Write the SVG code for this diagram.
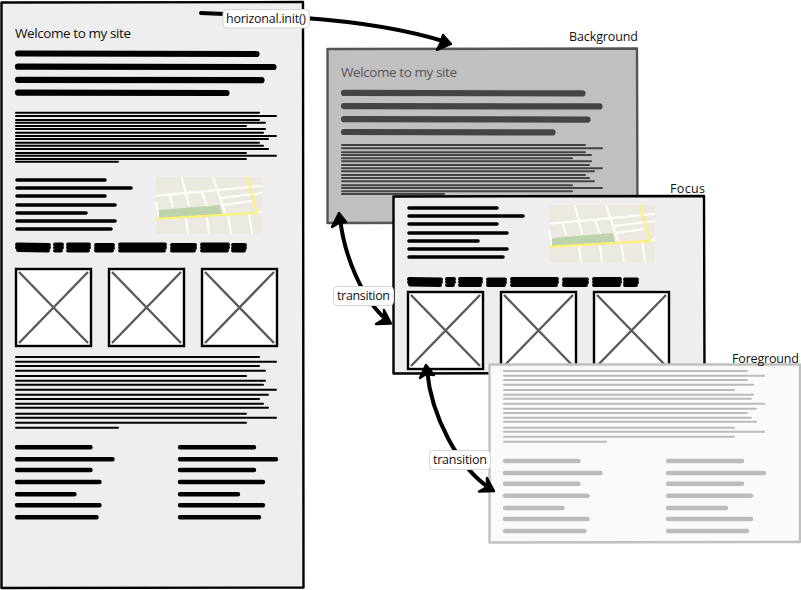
<svg xmlns="http://www.w3.org/2000/svg" width="801" height="590" viewBox="0 0 801 590">
<style>
text{font-family:"Open Sans","Noto Sans","Liberation Sans",sans-serif;fill:#111}
.lbl{font-size:12.5px}
.title{font-size:13.5px}
.h,.p,.l,.b,.f{fill:none;stroke-linecap:round}
.h{stroke-width:6.2}
.p{stroke-width:2}
.l{stroke-width:3.6}
.b{stroke-width:3.9;stroke-linejoin:round}
.f{stroke-width:4.4}
.pill{fill:#fff;stroke:#d4d4d4;stroke-width:1}
.conn{fill:none;stroke:#000;stroke-width:4;stroke-linecap:round}
.head{fill:#000;stroke:#000;stroke-width:2.4;stroke-linejoin:round}
.frame{stroke-width:2.4;stroke-linejoin:round}
.img{fill:#fff;stroke:#000;stroke-width:2.4}
.x{stroke:#5a5a5a;stroke-width:2.4;fill:none}
.road{stroke:#fff;stroke-width:2;fill:none}
.yel{stroke:#fdf36c;stroke-width:2;fill:none}
</style>
<defs>
<path id="head4" d="M18 53.500L256.500 54M18 66.700L273.500 67M18 79.800L261.500 80.200M18 92.600L226.500 93"/>
<path id="para" d="M16 112.700H259M16 116H276M16 120H259M16 122.700H265M16 126H246M16 129H265M16 132.700H263M16 136H276M16 139H268M16 142.700H259M16 145.700H263M16 149H268M16 153H246M16 155.700H276M16 159H246M16 161.700H118"/>
<path id="para2" d="M16 357H259M16 361.700H276M16 366H259M16 370.700H265M16 376H246M16 380.700H265M16 384.700H263M16 389.700H276M16 394.700H268M16 399H259M16 403.700H263M16 407.700H268M16 413.700H246M16 417.700H276M16 422.700H246M16 427.700H118"/>
<path id="list" d="M17 180H105M17 188H131M17 196H105M17 205H115M17 213H86M17 221H115M17 229H111"/>
<path id="blobs" d="M17 244.500L49 245M17 247.500H49M18 250L48 250.500M55 244.500H62M55 247.500H62M55 250.500H61M68 244.500H89M68 247.500H89M68 250.500H88M96 245H113M96 248H113M96 250.500H112M120 244.500H165M120 247.500H165M120 250.500H164M172 245H195M172 248H195M172 250.500H194M202 244.500H228M202 247.500H228M202 250.500H227M233 245H245M233 248H245M233 250.500H244"/>
<path id="foot" d="M17 447.300H90.500M17 459.300H112.500M17 470H90.500M17 482H99.500M17 494.300H74.500M17 505.300H99.500M17 517.300H96.500M180 447.300H254M180 459.300H276M180 470H254M180 482H263M180 494.300H238M180 505.300H263M180 517.300H259"/>
<g id="map">
<rect width="106" height="57" fill="#ece9e1"/>
<path class="road" d="M0 18.700L106 9M25.700 0L33 29M57 0L69 36M14 19L17 30M46 15L51 29M0 25L3 41M30 41L32 57M51 41L53 57M72 38L75 57M93 36L96 57M65 21L106 16M66 28L95 24M101 35.500L106 35"/>
<path d="M3 33L64 28L66 37L3 41Z" fill="#bdd3ac"/>
<path class="yel" d="M0 41.700L101 36L91 0"/>
</g>
<g id="imgbox">
<rect class="img" x="0" y="0" width="75" height="77"/>
<path class="x" d="M3 3L72 74M72 3L3 74"/>
</g>
</defs>

<g id="page">
<path d="M1.500 2.500L303 2L303.500 587.500L1.500 588Z" fill="#eeeeee" stroke="#000" class="frame"/>
<text class="title" x="15" y="38" textLength="116">Welcome to my site</text>
<use href="#head4" class="h" stroke="#000"/>
<use href="#para" class="p" stroke="#000"/>
<use href="#list" class="l" stroke="#000"/>
<use href="#map" x="156" y="177"/>
<use href="#blobs" class="b" stroke="#000"/>
<use href="#imgbox" x="16" y="269"/>
<use href="#imgbox" x="109" y="269"/>
<use href="#imgbox" x="202" y="269"/>
<use href="#para2" class="p" stroke="#000"/>
<use href="#foot" class="f" stroke="#000"/>
</g>

<g id="background">
<path d="M327.500 49L637 48.500L637.500 222.500L327.500 223Z" fill="#c0c0c0" stroke="#555" class="frame"/>
<text class="title" x="341" y="77" textLength="116" style="fill:#555">Welcome to my site</text>
<use href="#head4" class="h" stroke="#444" x="326" y="39.400"/>
<use href="#para" class="p" stroke="#444" x="326" y="32.300"/>
<text class="lbl" x="569" y="41" textLength="69">Background</text>
</g>

<g id="focus">
<path d="M393.500 196.500L704 196L704.500 373L393.500 373.500Z" fill="#eeeeee" stroke="#000" class="frame"/>
<use href="#list" class="l" stroke="#000" x="392" y="28"/>
<use href="#map" x="549" y="205"/>
<use href="#blobs" class="b" stroke="#000" x="392" y="34.500"/>
<use href="#imgbox" x="408" y="292"/>
<use href="#imgbox" x="501" y="292"/>
<use href="#imgbox" x="594" y="292"/>
<text class="lbl" x="670" y="193" textLength="35">Focus</text>
</g>

<g id="foreground">
<path d="M489.500 364.500L800 364.500L800 542L489.500 542.500Z" fill="#fafafa" stroke="#c0c0c0" class="frame"/>
<use href="#para2" class="p" stroke="#bbbbbb" x="488" y="14"/>
<use href="#foot" class="f" stroke="#bbbbbb" x="488" y="13.700"/>
<text class="lbl" x="732" y="363" textLength="67">Foreground</text>
</g>

<g id="connectors">
<path class="conn" d="M201 13L224 14"/>
<path class="conn" d="M305 18C360 22 405 29 446 42"/>
<path class="head" d="M451 44L437 50L441 42L443 35Z"/>
<path class="conn" d="M340 218C344 255 362 300 388 321"/>
<path class="head" d="M339 213L332 227L339 223L346 222Z"/>
<path class="head" d="M391 323.500L376 324L384 319L384 310Z"/>
<path class="conn" d="M427 370C431 415 458 468 491 489"/>
<path class="head" d="M426 365L420 378L426 374L434 375Z"/>
<path class="head" d="M494 491L479 491.500L487 487L487 478Z"/>
<rect class="pill" x="223" y="9.500" width="86.500" height="18.500" rx="4"/>
<text class="lbl" x="226" y="23" textLength="80">horizonal.init()</text>
<rect class="pill" x="333.500" y="286.500" width="60" height="19" rx="4"/>
<text class="lbl" x="337" y="300" textLength="53">transition</text>
<rect class="pill" x="429.500" y="450.500" width="61" height="19" rx="4"/>
<text class="lbl" x="433" y="464" textLength="54">transition</text>
</g>
</svg>
